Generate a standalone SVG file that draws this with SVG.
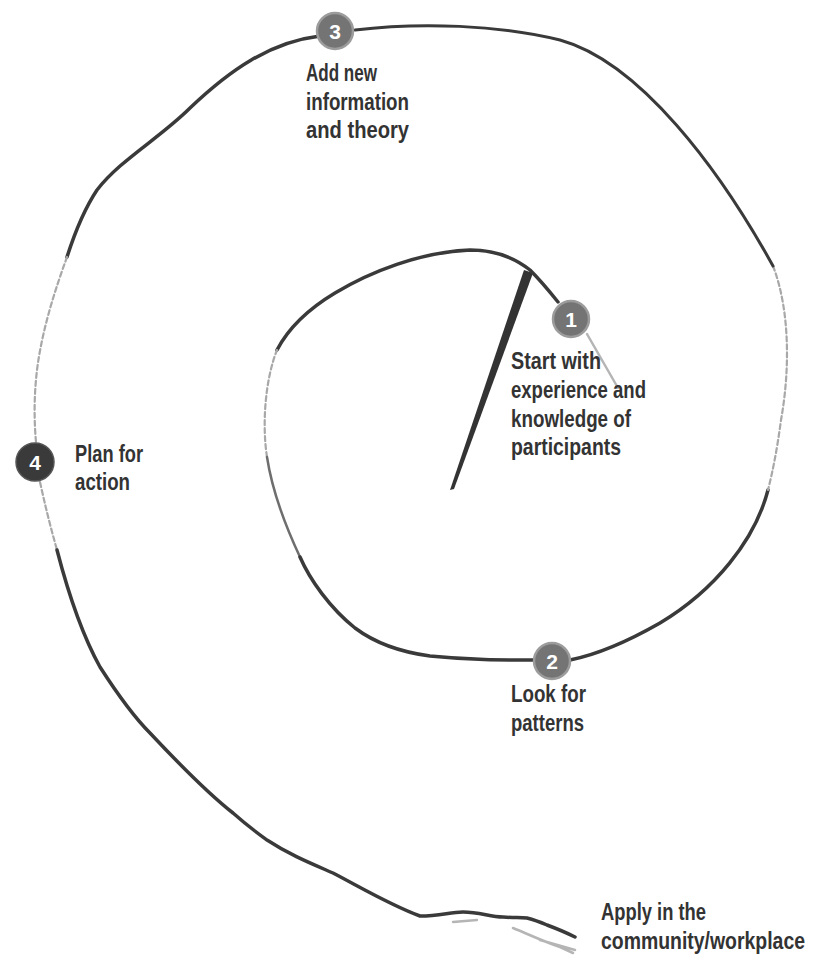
<svg xmlns="http://www.w3.org/2000/svg" width="816" height="962" viewBox="0 0 816 962">
<style>
.dark{fill:none;stroke:#3a3a3a;stroke-width:3.5;stroke-linecap:round;stroke-linejoin:round}
.mid{fill:none;stroke:#6e6e6e;stroke-width:2.5;stroke-linecap:round}
.faint{fill:none;stroke:#a8a8a8;stroke-width:2.2;stroke-linecap:round;stroke-dasharray:5 3}
.light{fill:none;stroke:#b5b5b5;stroke-width:2.5;stroke-linecap:round}
.lbl{font-family:"Liberation Sans",Arial,sans-serif;font-weight:bold;font-size:24px;fill:#333}
.num{font-family:"Liberation Sans",Arial,sans-serif;font-weight:bold;font-size:21px;fill:#fff;text-anchor:middle}
.gc{fill:#747474;stroke:#9c9c9c;stroke-width:2.5}
.dc{fill:#3a3a3a;stroke:#555;stroke-width:1.5}
</style>
<rect width="816" height="962" fill="#fff"/>
<g id="connectors">
  <polygon points="450,490 524,270 533,273 454,489" fill="#333"/>
  <path class="dark" d="M277 350 C290 325 310 308 335 293 C370 272 420 252 470 250 C495 250 515 258 530 270 C540 280 550 292 558 302"/>
  <path class="faint" d="M267 457 C262 425 265 380 277 350"/>
  <path class="mid" d="M300 557 C285 525 272 490 267 457"/>
  <path class="dark" d="M535 660 C500 660 470 660 430 656 C400 652 375 643 355 628 C330 608 310 580 300 557"/>
  <path class="light" d="M587 334 L618 388"/>
  <path class="dark" d="M768 490 C755 540 715 590 660 623 C625 643 595 655 570 660"/>
  <path class="faint" d="M773 266 C790 310 790 370 781 420 C777 450 773 470 768 490"/>
  <path class="dark" style="stroke-width:3" d="M355 30 C420 22 500 25 560 40 C640 62 720 170 773 266"/>
  <path class="dark" d="M320 36 C270 42 230 70 190 108 C160 138 120 160 97 190 C85 208 75 232 67 257"/>
  <path class="faint" d="M67 257 C55 290 42 330 37 370 C34 395 34 420 36 442"/>
  <path class="faint" d="M40 482 C45 505 50 525 57 550"/>
  <path class="dark" d="M57 550 C70 600 85 640 100 667 C118 695 135 718 150 733 C180 765 210 795 233 813 C250 828 260 835 267 840 C290 855 310 863 333 873 C360 887 390 905 420 916 C440 916 450 912 463 912 C480 912 490 917 503 917 C515 918 520 917 527 918 C535 920 540 922 547 925 C555 928 565 932 575 937"/>
  <path class="light" d="M453 922 L477 920 M513 928 C530 935 545 942 560 947 M540 940 L575 950 M560 947 L573 953"/>
</g>
<g id="node1">
  <circle class="gc" cx="571" cy="319" r="18"/>
  <text class="num" x="571" y="327">1</text>
  <text class="lbl"><tspan x="511" y="369" textLength="90" lengthAdjust="spacingAndGlyphs">Start with</tspan><tspan x="511" y="398" textLength="135" lengthAdjust="spacingAndGlyphs">experience and</tspan><tspan x="511" y="427" textLength="120" lengthAdjust="spacingAndGlyphs">knowledge of</tspan><tspan x="511" y="455" textLength="110" lengthAdjust="spacingAndGlyphs">participants</tspan></text>
</g>
<g id="node2">
  <circle class="gc" cx="552" cy="661" r="18"/>
  <text class="num" x="552" y="669">2</text>
  <text class="lbl"><tspan x="511" y="702" textLength="75" lengthAdjust="spacingAndGlyphs">Look for</tspan><tspan x="511" y="731" textLength="73" lengthAdjust="spacingAndGlyphs">patterns</tspan></text>
</g>
<g id="node3">
  <circle class="gc" cx="335" cy="31" r="18"/>
  <text class="num" x="335" y="39">3</text>
  <text class="lbl"><tspan x="306" y="81" textLength="71" lengthAdjust="spacingAndGlyphs">Add new</tspan><tspan x="306" y="110" textLength="103" lengthAdjust="spacingAndGlyphs">information</tspan><tspan x="306" y="138" textLength="103" lengthAdjust="spacingAndGlyphs">and theory</tspan></text>
</g>
<g id="node4">
  <circle class="dc" cx="35" cy="462" r="19"/>
  <text class="num" x="35" y="470">4</text>
  <text class="lbl"><tspan x="75" y="462" textLength="68" lengthAdjust="spacingAndGlyphs">Plan for</tspan><tspan x="75" y="490" textLength="55" lengthAdjust="spacingAndGlyphs">action</tspan></text>
</g>
<g id="node5">
  <text class="lbl"><tspan x="601" y="920" textLength="105" lengthAdjust="spacingAndGlyphs">Apply in the</tspan><tspan x="601" y="949" textLength="204" lengthAdjust="spacingAndGlyphs">community/workplace</tspan></text>
</g>
</svg>
